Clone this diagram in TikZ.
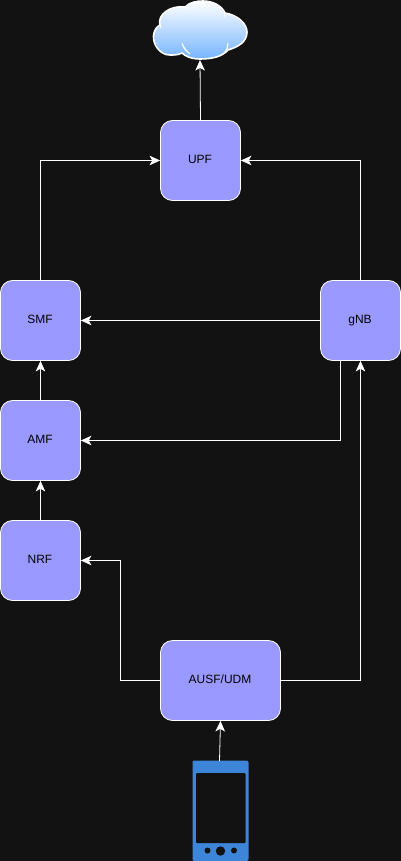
\documentclass[tikz,border=0pt]{standalone}
\usepackage{fontspec}
\setmainfont{Liberation Sans}
\usetikzlibrary{arrows.meta,shadings}
\definecolor{bgc}{HTML}{121212}
\definecolor{boxc}{HTML}{9999FF}
\definecolor{phonec}{HTML}{3D85D8}
\definecolor{cloudtop}{HTML}{FFFFFF}
\definecolor{cloudbot}{HTML}{75B4FF}
\newcommand{\lbl}[1]{\kern-1pt #1}
\tikzset{
  x=1pt,y=-1pt,
  nf/.style={draw=white,fill=boxc,rounded corners=12pt,line width=0.8pt,text=black,font=\fontsize{12}{14}\selectfont,anchor=center,inner sep=0pt,minimum height=80pt,text height=9pt,text depth=2.8pt},
  conn/.style={draw=white,line width=0.8pt,-{Stealth[length=10.5pt,width=9.5pt,inset=2.6pt]}},
  hole/.style={fill=bgc,draw=none}
}
\begin{document}
\begin{tikzpicture}
\useasboundingbox (0,0) rectangle (401,861);
\fill[bgc] (0,0) rectangle (401,861);
% cloud
\shade[top color=cloudtop,bottom color=cloudbot,draw=white,line width=1.6pt]
 (170,55) .. controls (160,55) and (153,45) .. (153.5,36)
 .. controls (154,31) and (156,27) .. (160,25)
 .. controls (157,15) and (170,5) .. (185,7)
 .. controls (190,2) and (197,1) .. (203,1)
 .. controls (213,1) and (222,6) .. (225,13)
 .. controls (238,15) and (247,24) .. (247,32)
 .. controls (247,42) and (238,47) .. (228,50)
 .. controls (222,57) and (211,59) .. (200,59)
 .. controls (191,59) and (185,56) .. (182,53)
 .. controls (178,55) and (174,55) .. (170,55) -- cycle;
\draw[white,line width=1.2pt] (182,43.5) .. controls (184,48) and (185,50) .. (190,54);
\draw[white,line width=1.2pt] (228,43.5) .. controls (228,47) and (227,49) .. (225,52);
\draw[white,line width=1pt] (160,25) .. controls (160,26) and (160,27) .. (161,28);
\draw[white,line width=1pt] (185,7) .. controls (187,7) and (189,8) .. (190,9);
\draw[white,line width=1pt] (225,13) .. controls (225,15) and (225,16) .. (224,17);
\coordinate (cloud) at (200,60);
% phone
\fill[phonec,rounded corners=2pt] (192.5,760.5) rectangle (248.5,861);
\fill[hole,rounded corners=1pt] (196,773) rectangle (245.5,843);
\fill[hole] (207.5,850.5) circle (3pt) (220.5,851) circle (4.7pt) (234,850.5) circle (3pt);
\coordinate (phone) at (219.5,761);
% nodes
\node[nf,minimum width=80pt] (upf) at (200.5,160.5) {\lbl{UPF}};
\node[nf,minimum width=80pt] (smf) at (40.5,320.5) {\lbl{SMF}};
\node[nf,minimum width=80pt] (gnb) at (360.5,320.5) {\lbl{gNB}};
\node[nf,minimum width=80pt] (amf) at (40.5,440.5) {\lbl{AMF}};
\node[nf,minimum width=80pt] (nrf) at (40.5,560.5) {\lbl{NRF}};
\node[nf,minimum width=120pt] (ausf) at (220.5,680.5) {\lbl{AUSF/UDM}};
% connectors
\draw[conn] (upf.north) -- (cloud);
\draw[conn] (smf.north) |- (upf.west);
\draw[conn] (gnb.north) |- (upf.east);
\draw[conn] (gnb.west) -- (smf.east);
\draw[conn] (amf.north) -- (smf.south);
\draw[conn] (nrf.north) -- (amf.south);
\draw[conn] (gnb.south west) ++(20,0) coordinate (gs) |- (amf.east);
\draw[conn] (ausf.east) -| (gnb.south);
\draw[conn] (ausf.west) -- ++(-40,0) coordinate (aw) |- (nrf.east);
\draw[conn] (phone) -- (ausf.south);
\end{tikzpicture}
\end{document}
